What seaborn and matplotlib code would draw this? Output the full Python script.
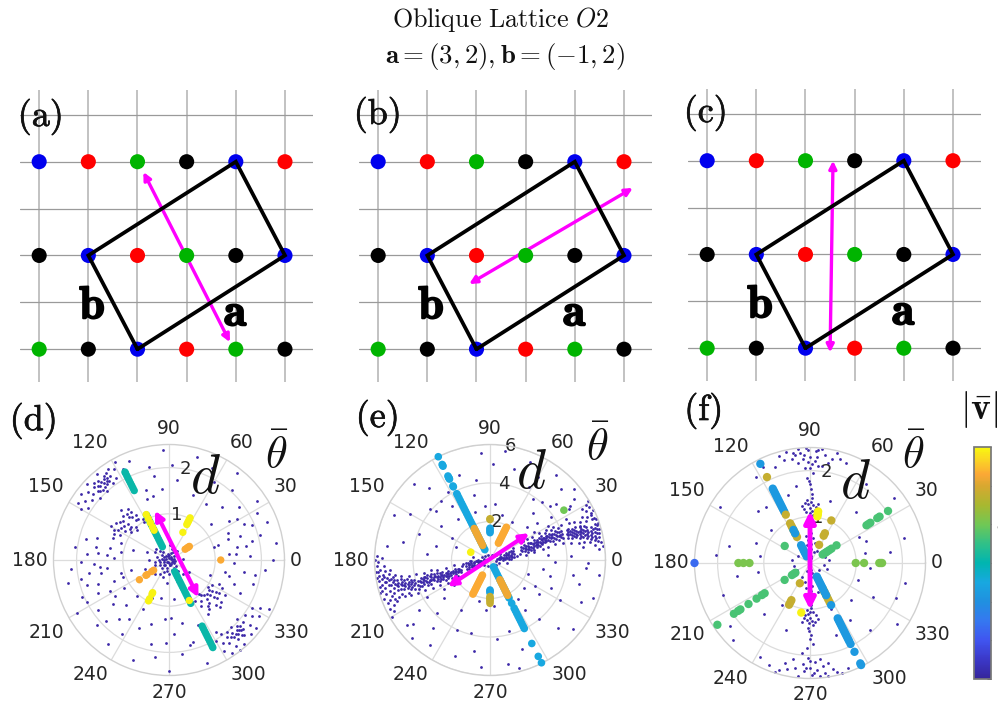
import numpy as np
import pandas as pd
import seaborn as sns
import matplotlib.pyplot as plt
import matplotlib.patheffects as pe
from matplotlib.cm import ScalarMappable
from matplotlib.colors import LinearSegmentedColormap, Normalize

sns.set_theme(style="whitegrid")
plt.rcParams["mathtext.fontset"] = "cm"

W, H = 998, 705

# lattice panels
row_y = [4, 2, 0]
row_sites = [["blue", "red", "green", "black", "blue", "red"],
             ["black", "blue", "red", "green", "black", "blue"],
             ["green", "black", "blue", "red", "green", "black"]]
site_colors = {"blue": "#0000ee", "red": "#ff0000", "green": "#00b400", "black": "#000000"}
cell_x = [2, 5, 4, 1, 2]
cell_y = [0, 2, 4, 2, 0]
lattice_arrows = [((2.12, 3.78), (3.88, 0.15)),
                  ((5.18, 3.44), (1.85, 1.39)),
                  ((2.56, 4.0), (2.5, -0.09))]
lattice_names = ["(a)", "(b)", "(c)"]

# colour bar stops
v_stops = [0, 0.5, 1, 1.5, 2, 2.5, 3, 3.5, 4, 4.5, 5, 5.3, 5.6, 6]
v_colors = ["#35259b", "#3b38c8", "#4055f0", "#3578f0", "#2090e0", "#18a8e0", "#00b5b0",
            "#30c088", "#70c855", "#a8b830", "#d8a830", "#fba835", "#fbcc28", "#f8f810"]

# polar panels: small background points (theta deg, d)
cloud_d = [
    (12,.12),(35,.2),(58,.08),(77,.25),(96,.14),(118,.3),(142,.18),(165,.26),(183,.1),(201,.33),(224,.16),
    (247,.28),(263,.07),(286,.22),(309,.31),(331,.13),(352,.24),(5,.3),(48,.27),(110,.09),(150,.35),(172,.15),
    (195,.2),(215,.06),(238,.36),(255,.17),(278,.12),(300,.1),(320,.2),(345,.09),(25,.06),(88,.32),(130,.11),
    (158,.07),(190,.3),(230,.24),(270,.3),(295,.28),(340,.3),(70,.15),(205,.12),(125,.22),(140,.38),(225,.42),
    (250,.4),(315,.42),(180,.44),(160,.5),(200,.55),(265,.5),(290,.48),(330,.5),(100,.05),(20,.04),(240,.05),
    (40,.13),(65,.18),(90,.1),(135,.27),(148,.12),(178,.22),(210,.22),(235,.14),(258,.24),(285,.12),(305,.2),(325,.08),(355,.13),
    (122,1.05),(126,1.2),(128,1.32),(130,1.12),(133,1.26),(135,1.02),(136,1.38),(138,1.18),(140,1.3),(141,1.08),
    (143,1.22),(145,1.4),(147,1.14),(149,1.28),(151,1.36),(153,1.2),(155,1.32),(124,.98),(129,1.42),(134,1.5),
    (137,.95),(144,1.02),(150,1.46),(158,1.3),(118,1.1),(127,1.1),(131,1.22),(139,1.1),(142,1.35),(146,1.25),(132,1.35),
    (302,1.05),(305,1.22),(308,1.12),(310,1.3),(312,1.02),(314,1.18),(316,1.4),(318,1.1),(320,1.26),(322,1.33),
    (324,1.15),(326,1.22),(328,1.42),(330,1.08),(332,1.3),(334,1.2),(306,1.44),(311,.98),(317,1.5),(325,1.02),
    (309,1.36),(313,1.28),(319,1.17),(323,1.08),(315,1.06),(321,1.45),(327,1.3),
    (121,2.3),(123,2.12),(124,2.38),(126,2.05),(127,2.22),(128,2.3),(129,2.12),(130,2.42),(131,2.25),(132,2.02),
    (133,2.18),(134,2.33),(135,2.1),(136,2.27),(137,2.42),(138,2.0),(139,2.18),(140,2.3),(142,2.12),(143,2.38),
    (145,2.22),(147,2.08),(148,2.33),(150,2.2),(117,2.2),(119,2.42),(125,2.22),(128,2.18),(131,2.1),(134,2.22),
    (126,2.32),(129,2.25),(132,2.3),(127,2.14),(130,2.18),(133,2.08),(136,2.15),
    (300,2.02),(301,2.3),(303,2.15),(304,2.42),(305,1.95),(306,2.22),(307,2.08),(308,2.35),(309,2.0),(310,2.18),
    (311,2.28),(312,2.44),(313,1.98),(314,2.12),(315,2.3),(316,2.05),(317,2.2),(318,2.38),(319,1.95),(320,2.1),
    (321,2.25),(322,2.4),(324,2.02),(326,2.18),(328,2.3),(330,2.08),(332,2.22),(334,2.4),(303,1.85),(308,2.48),
    (309,2.14),(311,2.08),(313,2.2),(315,2.14),(317,2.1),(312,2.16),(314,2.26),(316,2.18),
    (160,1.1),(163,1.62),(166,1.85),(168,1.3),(170,1.05),(172,2.05),(174,1.55),(176,1.78),(178,1.2),(181,1.9),
    (183,1.62),(185,2.12),(187,1.35),(189,1.75),(191,1.5),(193,2.25),(195,1.08),(197,1.85),(199,1.62),(201,1.28),
    (203,2.05),(205,1.7),(208,1.45),(210,2.3),(212,1.15),(215,1.88),(218,1.55),(222,2.1),(226,1.35),(230,1.68),
    (234,2.25),(238,1.9),(242,1.2),(246,1.62),(250,2.3),(254,1.45),(258,1.85),(262,2.12),(266,1.28),(270,2.4),
    (274,1.6),(278,2.05),(282,1.4),(286,1.85),(290,2.38),(294,1.55),(258,.85),(246,.9),(228,1.05),(278,.85),
    (340,1.5),(344,1.9),(348,1.25),(351,1.65),(354,2.1),(357,1.4),(0,2.25),(3,1.75),(6,1.3),(9,2.35),(11,1.5),
    (13,1.85),(15,2.05),(17,1.1),(19,1.62),(21,2.28),(23,1.95),(25,1.4),(28,2.15),(31,1.72),(34,2.3),(37,1.9),
    (41,1.2),(45,1.62),(48,2.05),(52,2.38),(56,1.45),(60,1.95),(65,2.2),(70,1.5),(75,2.3),(84,1.75),(88,2.05),
    (93,2.38),(96,1.55),(100,1.85),(104,1.42),(108,1.6),(112,2.3),(340,.95),(16,1.02),(165,.8),(195,.85),
    (5,1.45),(10,1.7),(20,1.35),(26,1.8),(33,1.55),(350,1.9),(345,1.35),(335,1.7),(170,1.6),(175,1.35),(186,1.5),(192,1.95),
    (200,1.05),(207,2.0),(214,1.4),(224,1.9),(236,1.55),(272,1.25),(284,1.9),(268,1.8),(110,1.4),(102,2.05),
]
cloud_e = [
    # inner band
    (5,.5),(8,.9),(10,.7),(12,1.1),(14,.6),(6,1.25),(15,.95),(3,.8),(18,1.2),(9,1.4),(20,.75),(11,.35),(22,1.05),
    (2,1.1),(13,1.3),(7,.45),(16,.55),(25,.9),(28,1.35),(0,.65),(185,.5),(188,.85),(190,.65),(192,1.1),(194,.55),
    (186,1.25),(195,.95),(183,.75),(198,1.15),(189,1.4),(200,.7),(191,.35),(202,1.0),(182,1.05),(193,1.3),(187,.45),
    (196,.6),(205,.9),(208,1.3),(180,.6),(40,.4),(70,.3),(110,.3),(140,.35),(160,.45),(220,.4),(250,.35),(290,.3),
    (320,.4),(340,.5),(350,.9),(170,.9),(30,.6),(210,.65),(355,.3),(175,.3),
    (4,1.0),(6,.75),(9,1.15),(11,.85),(13,.5),(17,.85),(19,1.0),(8,.6),(10,1.0),(14,1.15),(184,1.0),(186,.7),(189,1.15),
    (191,.85),(193,.5),(197,.85),(199,1.0),(188,.6),(190,1.0),(194,1.15),(201,1.3),(21,1.3),(24,1.2),(204,1.2),
    # right band
    (12,1.6),(17,1.7),(22,1.75),(14,1.85),(19,1.9),(24,1.95),(12,2.0),(16,2.05),(21,2.1),(25,2.15),(14,2.2),
    (18,2.25),(22,2.3),(13,2.35),(17,2.4),(21,2.45),(24,2.5),(15,2.55),(19,2.6),(23,2.65),(16,2.7),(20,2.75),
    (24,2.8),(17,2.85),(21,2.9),(25,2.95),(18,3.0),(22,3.05),(19,3.1),(23,3.15),(26,3.2),(18,3.25),(21,3.3),
    (24,3.35),(17,3.4),(20,3.45),(23,3.5),(26,3.55),(18,3.6),(21,3.65),(24,3.7),(16,3.75),(19,3.8),(22,3.85),
    (25,3.9),(17,3.95),(20,4.0),(16,4.2),(18,4.25),(20,4.3),(22,4.35),(15,4.4),(17,4.45),(19,4.5),(21,4.55),
    (15,4.6),(17,4.65),(19,4.7),(21,4.75),(14,4.8),(16,4.85),(18,4.9),(20,4.95),(14,5.0),(16,5.05),(18,5.1),
    (13,5.15),(15,5.2),(17,5.25),(19,5.3),(12,5.35),(14,5.4),(16,5.45),(18,5.5),(11,5.55),(13,5.6),(15,5.65),
    (17,5.7),(19,5.75),(22,5.7),(25,5.8),(12,5.8),(14,5.85),(16,5.9),(19,5.95),(22,5.85),(28,5.85),(30,5.75),
    (27,5.6),(24,5.5),(9,5.85),(7,5.9),(10,5.7),(31,5.95),(26,5.95),(20,5.2),(21,5.0),
    (15,1.72),(20,1.82),(17,1.98),(22,2.0),(15,2.12),(19,2.15),(23,2.24),(16,2.32),(20,2.36),(18,2.5),(22,2.55),
    (17,2.62),(21,2.68),(18,2.78),(22,2.85),(19,2.92),(23,2.98),(20,3.05),(21,3.12),(19,3.2),(23,3.24),(20,3.35),
    (22,3.42),(19,3.52),(22,3.58),(20,3.68),(23,3.76),(20,3.85),(18,3.9),(22,3.97),(19,4.22),(21,4.28),(18,4.38),
    (20,4.42),(16,4.52),(18,4.58),(20,4.62),(16,4.72),(18,4.78),(15,4.9),(17,4.96),(19,5.02),(15,5.1),(17,5.15),
    (14,5.25),(16,5.32),(13,5.42),(15,5.5),(17,5.58),(12,5.62),(14,5.72),(16,5.78),(18,5.84),(21,5.9),(24,5.75),
    (8,1.9),(30,2.0),(10,2.3),(29,2.5),(12,2.8),(29,2.9),(13,3.1),(28,3.3),(14,3.5),(28,3.7),(13,3.9),(26,4.1),
    (12,4.3),(25,4.5),(11,4.7),(24,4.8),(11,5.0),(23,5.1),(10,5.3),(22,5.4),(8,5.5),(25,5.3),(6,5.7),(29,5.45),
    # left band
    (193,1.5),(198,1.6),(203,1.65),(196,1.75),(201,1.8),(206,1.85),(194,1.9),(199,1.95),(204,2.0),(197,2.1),
    (201,2.15),(205,2.2),(195,2.25),(199,2.3),(203,2.35),(196,2.4),(200,2.45),(204,2.5),(194,2.55),(198,2.6),
    (202,2.65),(195,2.7),(199,2.75),(203,2.8),(194,2.85),(198,2.9),(202,2.95),(194,3.0),(197,3.05),(200,3.1),
    (193,3.15),(196,3.2),(199,3.25),(202,3.3),(193,3.35),(196,3.4),(199,3.45),(202,3.5),(194,3.55),(197,3.6),
    (200,3.65),(195,3.7),(198,3.75),(201,3.8),(196,3.9),(199,3.95),(202,4.0),(195,4.1),(198,4.15),(201,4.2),
    (194,4.25),(197,4.3),(200,4.35),(193,4.4),(196,4.45),(199,4.5),(202,4.55),(193,4.6),(196,4.65),(199,4.7),
    (192,4.75),(195,4.8),(198,4.85),(201,4.9),(192,4.95),(195,5.0),(198,5.05),(190,5.1),(193,5.15),(196,5.2),
    (199,5.25),(188,5.3),(191,5.35),(194,5.4),(197,5.45),(186,5.5),(189,5.55),(192,5.6),(195,5.65),(198,5.7),
    (185,5.75),(188,5.8),(191,5.85),(194,5.9),(197,5.95),(200,5.85),(203,5.75),(183,5.9),(186,5.95),(202,5.6),
    (205,5.5),(200,5.4),(181,5.8),(179,5.6),(180,5.95),(178,5.85),(206,5.8),(208,5.65),(210,5.9),
    (196,1.68),(200,1.72),(198,1.85),(202,1.92),(196,2.02),(200,2.05),(198,2.2),(202,2.28),(197,2.32),(201,2.38),
    (198,2.5),(200,2.58),(197,2.65),(201,2.72),(197,2.8),(200,2.88),(196,2.95),(198,3.12),(195,3.22),(198,3.3),
    (200,3.38),(195,3.48),(198,3.52),(196,3.62),(198,3.68),(197,3.82),(200,3.88),(197,4.05),(196,4.2),(199,4.28),
    (195,4.38),(198,4.42),(195,4.55),(197,4.62),(194,4.7),(196,4.78),(194,4.9),(196,4.95),(192,5.08),(194,5.1),
    (191,5.25),(194,5.28),(190,5.45),(192,5.5),(188,5.62),(190,5.7),(193,5.75),(186,5.85),(189,5.92),(196,5.82),
    (188,1.9),(210,2.0),(190,2.3),(209,2.5),(191,2.8),(207,2.9),(190,3.1),(206,3.3),(191,3.5),(205,3.7),(191,3.9),
    (205,4.1),(191,4.3),(204,4.5),(190,4.7),(203,4.8),(189,5.0),(202,5.1),(186,5.2),(202,5.35),(183,5.5),(204,5.3),
    # sparse points
    (35,1.8),(42,2.6),(48,3.3),(55,3.9),(62,4.3),(40,4.5),(45,5.2),(52,5.6),(60,5.0),(68,5.5),(75,4.9),(82,5.7),
    (88,5.0),(95,5.6),(100,4.2),(104,3.5),(110,4.7),(125,3.4),(130,4.9),(135,5.6),(140,4.1),(145,3.1),(150,4.8),
    (155,5.5),(160,3.9),(165,2.9),(168,4.6),(172,5.4),(175,3.3),(130,4.0),(118,3.9),(138,3.8),(122,4.15),(128,2.7),
    (35,3.9),(38,3.1),(42,4.2),(48,4.05),(33,4.9),(36,5.4),(40,5.7),(30,3.5),(33,2.7),(28,4.5),(30,2.2),(34,5.0),
    (215,2.3),(220,3.1),(225,3.9),(230,4.6),(235,5.4),(210,3.8),(215,4.5),(220,5.2),(225,5.7),(212,2.8),(218,5.5),
    (240,3.0),(245,4.0),(250,5.3),(255,3.9),(260,4.8),(265,5.6),(275,4.1),(280,5.5),(285,3.8),(290,4.9),(285,5.8),
    (305,3.2),(310,4.0),(315,5.0),(320,5.6),(325,3.1),(330,4.2),(335,5.2),(340,5.7),(345,3.2),(350,4.4),(355,5.0),
    (320,2.3),(330,2.7),(340,2.1),(350,2.8),(358,3.4),(3,4.2),(5,3.0),(8,4.9),(358,5.1),(352,5.7),(345,4.8),(335,3.5),
    (255,2.2),(265,2.6),(275,2.4),(295,2.0),(305,2.5),(75,2.4),(85,2.9),(60,2.3),(95,2.8),(108,2.6),(150,2.3),(160,1.9),
]
cloud_f = [
    (80,.12),(85,.3),(90,.5),(95,.22),(100,.4),(75,.45),(105,.15),(88,.65),(92,.72),(84,.55),(98,.6),(70,.25),
    (110,.35),(60,.3),(120,.25),(40,.3),(20,.35),(150,.3),(170,.4),(10,.42),(190,.35),(210,.32),(240,.35),(260,.55),
    (265,.3),(270,.7),(275,.5),(280,.22),(255,.42),(285,.65),(250,.18),(290,.4),(300,.3),(320,.25),(340,.4),(350,.3),
    (86,1.05),(88,1.12),(90,1.2),(92,1.28),(94,1.1),(96,1.18),(84,1.22),(89,1.32),(91,1.02),(93,1.36),(87,1.26),
    (95,1.3),(85,1.15),(98,1.24),(82,1.3),(90,1.08),(88,1.4),
    (266,1.02),(268,1.1),(270,1.18),(272,1.26),(274,1.06),(276,1.14),(264,1.2),(269,1.3),(271,.98),(273,1.35),
    (267,1.24),(275,1.28),(265,1.12),(278,1.22),(262,1.3),(270,1.05),(268,1.4),
    (80,2.2),(82,2.35),(84,2.48),(85,2.1),(86,2.3),(87,2.42),(88,1.95),(89,2.15),(90,2.3),(91,2.45),(92,1.85),
    (93,2.05),(94,2.25),(95,2.4),(96,2.48),(97,2.18),(98,2.35),(99,2.42),(100,2.28),(102,2.46),(104,2.3),
    (76,2.45),(78,2.3),(90,1.7),(89,1.6),(91,1.78),(88,1.5),(92,2.48),(86,2.46),(83,2.12),(106,2.42),(74,2.35),(70,2.3),
    (260,2.1),(262,2.3),(264,2.45),(265,1.95),(266,2.2),(267,2.35),(268,1.85),(269,2.05),(270,2.28),(271,2.42),
    (272,1.75),(273,2.15),(274,2.32),(275,2.46),(276,2.08),(277,2.25),(278,2.4),(279,2.48),(280,2.2),(282,2.35),
    (284,2.44),(258,2.35),(256,2.22),(254,2.42),(252,2.48),(270,1.65),(271,1.55),(269,1.48),(286,2.48),(248,2.38),(290,2.42),
    (100,1.7),(108,1.55),(115,1.3),(122,2.2),(128,1.55),(135,1.6),(140,1.1),(148,2.3),(160,1.25),(168,1.8),(175,2.05),
    (172,1.1),(190,1.6),(200,2.0),(218,2.2),(228,1.5),(236,1.1),(242,2.3),(250,1.55),(290,1.65),(295,1.1),(305,1.5),
    (312,1.95),(318,1.2),(325,2.3),(332,1.55),(340,1.1),(348,2.1),(355,1.3),(8,1.75),(15,2.1),(22,1.3),(28,1.2),
    (38,2.3),(48,1.5),(55,2.1),(65,1.8),(72,1.4),(110,2.2),(116,2.3),(225,2.35),(10,1.2),(190,1.15),(338,2.0),
    (88,.25),(92,.35),(86,.42),(94,.5),(90,.18),(270,.2),(266,.38),(274,.3),(268,.52),(272,.6),(84,.15),(96,.1),(264,.12),
    (276,.15),(88,.85),(92,.9),(268,.85),(272,.92),(90,2.05),(87,2.2),(93,2.35),(91,2.18),(270,2.12),(268,2.28),(272,2.38),
]

# colored points: theta, list of d, v
marks_d = [
    (116.6, [1.68,1.74,1.8,1.86,1.92,1.98,2.04,2.1,2.13], 3.1),
    (116.6, [.32,.38,.44,.5,.56,.62,.68,.74,.8,.86,.92,.98,1.04,1.09], 3.1),
    (116.6, [.72,.8,.9,1.0,1.1], 5.95),
    (296.6, [.28,.34,.4,.46,.52,.58,.64,.7,.76,.82,.88,.94,1.05], 3.1),
    (296.6, [1.6,1.66,1.72,1.78,1.84,1.9,1.96,2.02,2.08,2.12], 3.1),
    (296.6, [.98], 5.95),
    (63.4, [.67,.86,.9,.94,.98,1.02], 5.95),
    (243.4, [.79,.82,.94,.99], 5.95),
    (33.7, [.42,.47,.5,.53], 5.3),
    (0, [1.12], 5.3),
    (213.7, [.4,.45,.57,.6,.77], 5.3),
]
marks_e = [
    (116.6, [.6,.75,.9,1.05,1.2,1.35,1.5,1.65,1.8,1.95,2.1,2.25,2.4,2.55,2.7,2.85,3.0,3.15,3.3,3.45,3.6,3.75,3.85], 2.5),
    (116.6, [4.3,4.25,4.7,4.75,4.8,4.88,5.45,5.5,5.55,6.0], 2.5),
    (296.6, [.4,.55,.7,.85,1.0,1.15,1.3,1.45,1.6,1.75,1.9,2.05,2.2,2.51,2.8,2.95,3.1,3.25,3.4,3.55,3.7,3.85,3.98], 2.5),
    (296.6, [4.85,5.6,5.97], 2.5),
    (116.6, [.85,1.0,1.12,1.25,1.38,1.5,1.62,1.73,1.83], 5.2),
    (296.6, [1.15,1.27,1.38,1.5,1.62,1.75,1.85,1.95,2.05], 5.2),
    (63.4, [.98,1.08,1.18,1.28,1.38,1.48,1.58,1.68,1.78,1.9], 5.3),
    (243.4, [.88,.98,1.08,1.18,1.28,1.38,1.48,1.58,1.68,1.78,1.88,1.98], 5.3),
    (90, [1.42,1.5,1.58,1.65], 2.4),
    (90, [2.1,2.14], 4.8),
    (270, [1.56,1.62,1.7], 2.4),
    (270, [1.9,1.98,2.06,2.14,2.25], 4.8),
    (158, [1.08], 5.95),
    (34, [4.63], 4.0),
]
marks_f = [
    (116.6, [2.4,1.8,1.75,1.7,1.65,1.6,1.55,1.5,1.45,1.4,1.35,1.3,1.24], 2.2),
    (116.6, [2.08,1.17,.96,.9,.85,.8,.75,.7,.63], 4.8),
    (116.6, [.8,.72,.43,.38,.32,.27,.22,.16], 2.2),
    (296.6, [.33,.38,.43,.48,.53,.58], 2.2),
    (296.6, [.65,.7,.76,.82,.88,.95], 4.8),
    (296.6, [.62,.7,.78,1.02], 2.2),
    (296.6, [1.34,1.39,1.44,1.49,1.54,1.59,1.64,1.69,1.74,1.79,1.84,1.89,1.96,2.15,2.47,2.43], 2.2),
    (81, [1.02,1.06,1.09,1.13], 5.95),
    (260, [1.09], 5.95),
    (63.4, [.44,.66,.72,1.03], 4.8),
    (243.4, [.49,.9,.95,1.01], 4.8),
    (33.7, [.33,.37,.41,.45,.5,.56,.69], 3.7),
    (33.7, [1.47,1.52,1.57,1.75,1.81,2.03], 3.7),
    (213.7, [.38,.42,.47,.66,1.18,1.25,1.39,1.6,1.81,1.87,1.98,2.41], 3.7),
    (0, [.99,1.17,1.5,1.53,1.56], 4.1),
    (180, [1.31,1.44,1.55], 4.1),
    (146, [.66], 3.7),
    (180, [2.5], 1.3),
]
arrows_d = ((105.8, 1.11), (308.2, 1.03))
arrows_e = ((34.4, 2.47), (212.4, 2.59))
arrows_f = ((90, 1.12), (270, 1.01))

r_ticks = [[1, 2], [2, 4, 6], [1, 2]]
r_max = [2.5, 6, 2.5]
theta_ticks = list(range(0, 360, 30))
# where the angle labels sit, px from the panel centre
theta_dx = [127, 116, 73, 0, -79, -123, -139, -123, -79, 0, 79, 122]
theta_dy = [0, 73, 117, 132, 117, 73, 0, -72, -115, -132, -115, -72]

cmap = LinearSegmentedColormap.from_list("vbar", [(v / 6, c) for v, c in zip(v_stops, v_colors)])
norm = Normalize(0, 6)
MAGENTA = "#ff00ff"


def px_axes(fig, left, top, right, bottom, **kw):
    return fig.add_axes([left / W, 1 - bottom / H, (right - left) / W, (bottom - top) / H], **kw)


def px_text(fig, x, y, s, size, stroke=0.0, color="#111111"):
    t = fig.text(x / W, 1 - y / H, s, fontsize=size, ha="center", va="center", color=color)
    if stroke:
        t.set_path_effects([pe.withStroke(linewidth=stroke, foreground=color)])


def lattice_panel(fig, left, top, arrow):
    ax = px_axes(fig, left, top, left + 293, top + 292)
    sites = pd.DataFrame([(i, y, name) for y, row in zip(row_y, row_sites) for i, name in enumerate(row)],
                         columns=["x", "y", "site"])
    sns.scatterplot(data=sites, x="x", y="y", hue="site", palette=site_colors, s=118, linewidth=0,
                    legend=False, ax=ax, zorder=3, clip_on=False)
    ax.plot(cell_x, cell_y, color="black", lw=2.7, zorder=4, solid_joinstyle="miter")
    ax.annotate("", xy=arrow[1], xytext=arrow[0], zorder=2.5,
                arrowprops=dict(arrowstyle="<|-|>", color=MAGENTA, lw=2.4, mutation_scale=11, shrinkA=0, shrinkB=0))
    for x, y, s in [(4.0, 0.77, r"$\mathbf{a}$"), (1.08, 0.92, r"$\mathbf{b}$")]:
        t = ax.text(x, y, s, fontsize=33, ha="center", va="center", color="black", zorder=5)
        t.set_path_effects([pe.withStroke(linewidth=1.4, foreground="black")])
    ax.set_xlim(-0.39, 5.57)
    ax.set_ylim(-0.7, 5.53)
    ax.set_xticks(range(6))
    ax.set_yticks(range(6))
    ax.set_xticklabels([])
    ax.set_yticklabels([])
    ax.set_xlabel("")
    ax.set_ylabel("")
    ax.grid(True, axis="x", color="#bdbdbd", lw=1.3)
    ax.grid(True, axis="y", color="#9a9a9a", lw=0.9)
    ax.set_axisbelow(True)
    sns.despine(ax=ax, left=True, bottom=True)
    ax.patch.set_alpha(0)


def polar_panel(fig, cx, cy, cloud, marks, arrow, ticks, rmax, lw, head, dot):
    ax = px_axes(fig, cx - 115.5, cy - 115.5, cx + 115.5, cy + 115.5, projection="polar")
    df = pd.DataFrame(cloud, columns=["theta", "d"])
    df["rad"] = np.deg2rad(df["theta"])
    sns.scatterplot(data=df, x="rad", y="d", color="#3c28a8", s=4, linewidth=0, ax=ax, zorder=2, clip_on=False)
    rows = [(th, d, v) for th, ds, v in marks for d in ds]
    mk = pd.DataFrame(rows, columns=["theta", "d", "v"])
    mk["rad"] = np.deg2rad(mk["theta"])
    sns.scatterplot(data=mk, x="rad", y="d", hue="v", palette=cmap, hue_norm=norm, s=dot, linewidth=0,
                    legend=False, ax=ax, zorder=3, clip_on=False)
    start, end = arrow
    ax.annotate("", xy=(np.deg2rad(end[0]), end[1]), xytext=(np.deg2rad(start[0]), start[1]), zorder=5,
                arrowprops=dict(arrowstyle="<|-|>", color=MAGENTA, lw=lw, mutation_scale=head, shrinkA=0, shrinkB=0))
    ax.set_rlim(0, rmax)
    ax.set_rticks(ticks)
    ax.set_yticklabels([])
    for r in ticks:
        ax.text(np.deg2rad(80), r, str(r), fontsize=13, ha="center", va="center", color="#262626", zorder=2.5)
    ax.set_thetagrids(theta_ticks, labels=[""] * len(theta_ticks))
    for t, dx, dy in zip(theta_ticks, theta_dx, theta_dy):
        px_text(fig, cx + dx, cy - dy, str(t), 13.5, color="#262626")
    ax.set_xlabel("")
    ax.set_ylabel("")
    ax.grid(True, color="#dcdcdc", lw=0.9)
    ax.spines["polar"].set_color("#d0d0d0")
    ax.spines["polar"].set_linewidth(1)
    ax.patch.set_alpha(0)


fig = plt.figure(figsize=(W / 100, H / 100), dpi=100)

px_text(fig, 500, 19, r"$\mathrm{Oblique\ Lattice}\ \mathit{O2}$", 18.7)
px_text(fig, 505, 57, r"$\mathbf{a}=(3,2),\mathbf{b}=(-1,2)$", 19.3)

for left, top, arrow in zip([20, 359, 688], [90, 90, 89], lattice_arrows):
    lattice_panel(fig, left, top, arrow)

polar_panel(fig, 169, 560, cloud_d, marks_d, arrows_d, r_ticks[0], r_max[0], 3, 13, 28)
polar_panel(fig, 490, 560, cloud_e, marks_e, arrows_e, r_ticks[1], r_max[1], 3, 13, 30)
polar_panel(fig, 810, 563, cloud_f, marks_f, arrows_f, r_ticks[2], r_max[2], 3.5, 16, 36)

for (x, y), name in zip([(40, 117), (377, 115), (705, 113)], lattice_names):
    px_text(fig, x, y, r"$\mathrm{%s}$" % name, 26, stroke=0.5)
for (x, y), name in zip([(33, 421), (377, 418), (703, 411)], ["(d)", "(e)", "(f)"]):
    px_text(fig, x, y, r"$\mathrm{%s}$" % name, 26, stroke=0.5)

for (x, y) in [(205, 478), (531, 473), (855, 483)]:
    px_text(fig, x, y, r"$d$", 40)
for (x, y) in [(277, 455), (598, 447), (914, 455)]:
    px_text(fig, x, y, r"$\bar{\theta}$", 32)
px_text(fig, 979, 410, r"$|\bar{\mathbf{v}}|$", 27)

cax = px_axes(fig, 974, 447, 991, 679)
cb = fig.colorbar(ScalarMappable(norm=norm, cmap=cmap), cax=cax)
cb.set_ticks([0, 1, 2, 3, 4, 5, 6])
cb.ax.tick_params(direction="in", length=3, width=0.7, labelsize=12, pad=4, color="#444444")
cb.outline.set_edgecolor("#777777")
cax.grid(False)

fig.savefig("out.png", dpi=100)
